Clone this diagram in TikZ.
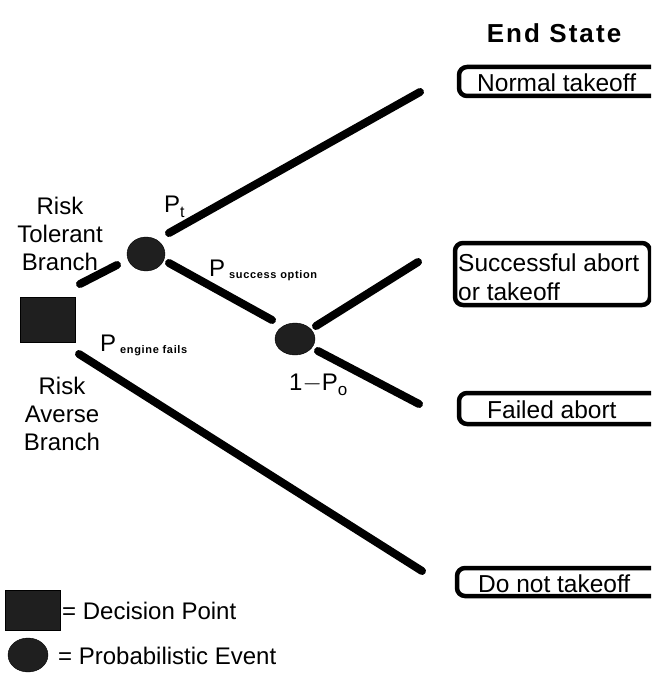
\documentclass[tikz,border=0pt]{standalone}
\usepackage{fontspec}
\setmainfont{Liberation Sans}
\usetikzlibrary{shapes.geometric}
\begin{document}
\begin{tikzpicture}[x=1pt,y=-1pt,
  branch/.style={line width=8pt, line cap=round},
  decision/.style={rectangle, fill=black!88, draw=black, minimum width=55pt, minimum height=45pt, inner sep=0pt},
  chance/.style={ellipse, fill=black!88, draw=black, inner sep=0pt},
  endbox/.style={draw=black, line width=4.5pt, rounded corners=8pt},
  lbl/.style={font=\fontsize{24}{28}\selectfont, inner sep=0pt},
  boxtext/.style={font=\fontsize{24.5}{29}\selectfont, inner sep=0pt, anchor=west, align=left},
  sub/.style={font=\fontsize{11}{12}\selectfont\bfseries\addfontfeature{LetterSpace=6}, inner sep=0pt, anchor=base west}]
\useasboundingbox (0,0) rectangle (651,679);
\clip (0,0) rectangle (651,679);

% title
\node[font=\fontsize{26}{30}\selectfont\bfseries\addfontfeature{LetterSpace=8}, inner sep=0pt] (title) at (554,33) {End State};

% end-state boxes (running off the right margin)
\draw[endbox] (459,67) rectangle (680,96);
\node[boxtext] (t1) at (477,83) {Normal takeoff};
\draw[endbox] (455,243) rectangle (650,305);
\node[boxtext] (t2) at (458,277) {Successful abort\\or takeoff};
\draw[endbox] (459,393) rectangle (680,424);
\node[boxtext] (t3) at (487,410) {Failed abort};
\draw[endbox] (457,568) rectangle (680,596);
\node[boxtext] (t4) at (478,584) {Do not takeoff};

% decision point and probabilistic events
\node[decision] (dp) at (48,320) {};
\node[chance, minimum width=38pt, minimum height=34pt] (c1) at (146,254) {};
\node[chance, minimum width=40pt, minimum height=32pt] (c2) at (295,339) {};

% branch ends
\coordinate (e1) at (420,92);
\coordinate (e2) at (418,262);
\coordinate (e3) at (419,404);
\coordinate (e4) at (422,571);
\coordinate (s0) at (80,284);
\coordinate (s1) at (117,265);
\coordinate (a0) at (169,233);
\coordinate (b0) at (169,263);
\coordinate (b1) at (272,320);
\coordinate (u0) at (316,326);
\coordinate (d0) at (318,351);
\coordinate (l0) at (79,354);

% branches
\draw[branch] (s0) -- (s1);
\draw[branch] (a0) -- (e1);
\draw[branch] (b0) -- (b1);
\draw[branch] (u0) -- (e2);
\draw[branch] (d0) -- (e3);
\draw[branch] (l0) -- (e4);

% branch labels
\node[lbl, align=center] (rt) at (60,234) {Risk\\Tolerant\\Branch};
\node[lbl, align=center] (ra) at (62,414) {Risk\\Averse\\Branch};
\node[lbl, anchor=base west] (pt) at (164,212) {P\raisebox{-5pt}{\fontsize{16}{16}\selectfont t}};
\node[lbl, anchor=base west] (ps) at (209,276) {P};
\node[sub] at (229,278) {success option};
\node[lbl, anchor=base west] (pe) at (100,351) {P};
\node[sub] at (120,353) {engine fails};
\node[lbl, anchor=base west] (po) at (289,390) {1$-$P\raisebox{-5pt}{\fontsize{17}{17}\selectfont o}};

% legend
\node[decision, minimum width=55pt, minimum height=40pt] (ldp) at (33,610) {};
\node[lbl, anchor=west] (ltx1) at (62,611) {= Decision Point};
\node[chance, minimum width=40pt, minimum height=34pt] (lc) at (28,655) {};
\node[lbl, anchor=west] (ltx2) at (58,656) {= Probabilistic Event};
\end{tikzpicture}
\end{document}
